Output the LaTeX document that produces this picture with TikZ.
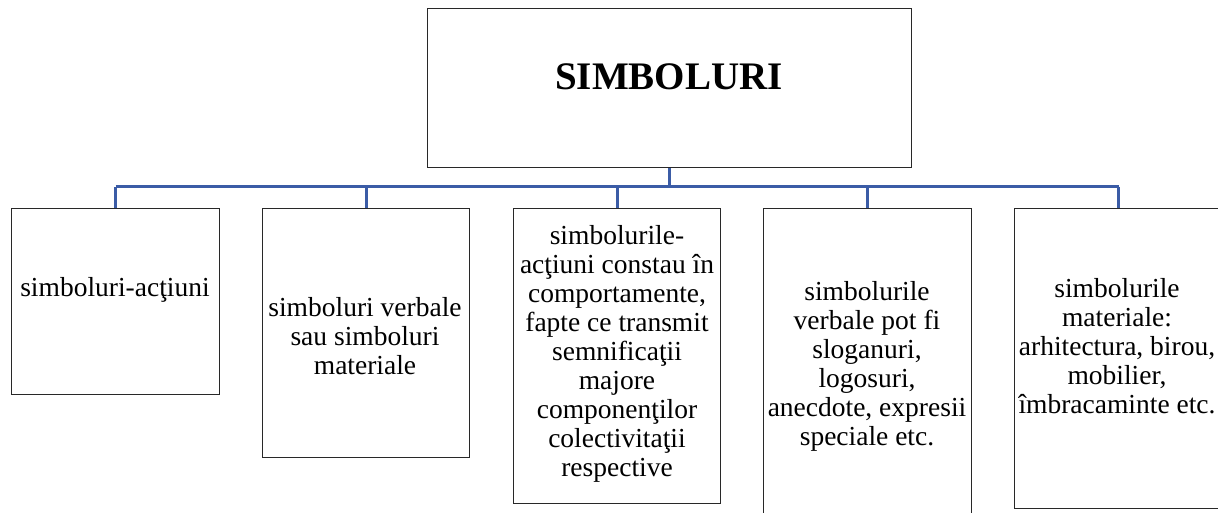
\documentclass[tikz,border=0pt]{standalone}
\usepackage{fontspec}
\setmainfont{Liberation Serif}
\definecolor{busblue}{RGB}{59,92,166}
\definecolor{boxline}{RGB}{40,40,40}
\begin{document}
\begin{tikzpicture}[x=1pt,y=-1pt,
  box/.style={draw=boxline,line width=1.3pt,inner sep=0pt,anchor=north west},
  txt/.style={align=center,inner sep=0pt,font=\fontsize{27.5}{29}\selectfont},
  bus/.style={draw=busblue,line width=3pt}]
\useasboundingbox (0,0) rectangle (1218,513);
% boxes
\node[box,minimum width=484pt,minimum height=159pt] (top) at (427,8) {};
\node[box,minimum width=208pt,minimum height=186pt] (b1) at (11,208) {};
\node[box,minimum width=207pt,minimum height=249pt] (b2) at (262,208) {};
\node[box,minimum width=207pt,minimum height=295pt] (b3) at (513,208) {};
\node[box,minimum width=208pt,minimum height=320pt] (b4) at (763,208) {};
\node[box,minimum width=208pt,minimum height=300pt] (b5) at (1014,208) {};
% texts
\node[inner sep=0pt,font=\fontsize{39}{42}\selectfont\bfseries] (ttop) at (669,77) {SIMBOLURI};
\node[txt] (t1) at (115,290) {simboluri-acţiuni};
\node[txt] (t2) at (365,336) {simboluri verbale\\sau simboluri\\materiale};
\node[txt] (t3) at (617,354) {simbolurile-\\acţiuni constau în\\comportamente,\\fapte ce transmit\\semnificaţii\\majore\\componenţilor\\colectivitaţii\\respective};
\node[txt] (t4) at (867,366) {simbolurile\\verbale pot fi\\sloganuri,\\logosuri,\\anecdote, expresii\\speciale etc.};
\node[txt] (t5) at (1117,346) {simbolurile\\materiale:\\arhitectura, birou,\\mobilier,\\îmbracaminte etc.};
% connectors
\coordinate (busy) at (669,187);
\draw[bus] (top.south) -- (top.south |- busy);
\draw[bus] (b1.north |- busy) -- (b5.north |- busy);
\foreach \b in {b1,b2,b3,b4,b5}{
  \draw[bus] (\b.north |- busy) -- (\b.north);
}
\end{tikzpicture}
\end{document}
